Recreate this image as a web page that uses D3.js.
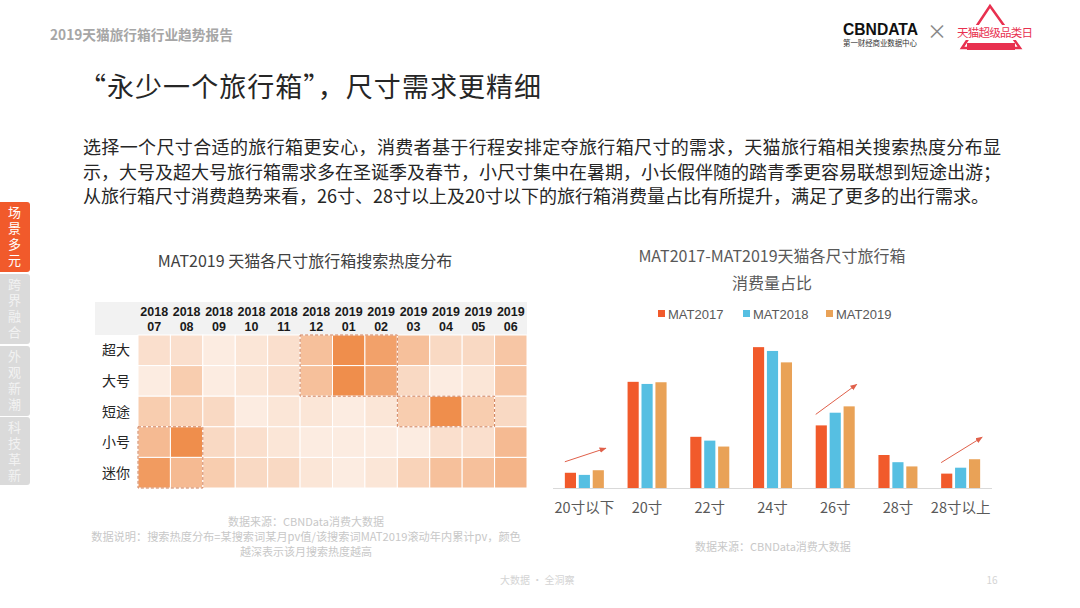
<!DOCTYPE html>
<html><head><meta charset="utf-8">
<script src="https://cdn.jsdelivr.net/npm/d3@7"></script>
<style>
html,body{margin:0;padding:0;background:#fff;}
svg{display:block;font-family:"Noto Sans CJK SC","Microsoft YaHei",sans-serif;}
</style></head>
<body><svg id="c" width="1080" height="608"></svg>
<script>
// ---------- data ----------
const months = ["201807","201808","201809","201810","201811","201812","201901","201902","201903","201904","201905","201906"];
const sizesHeat = ["超大","大号","短途","小号","迷你"];
const heatXL   = [7.0, 7.0, 6.0, 6.5, 7.0, 9.5, 13.5, 12.0, 9.5, 7.5, 7.5, 9.0];
const heatL    = [6.0, 8.5, 6.0, 6.5, 7.0, 9.5, 13.5, 11.5, 7.5, 6.0, 6.5, 9.0];
const heatTrip = [8.5, 8.0, 7.5, 6.0, 6.5, 6.5, 6.0, 6.5, 8.5, 13.5, 8.5, 7.5];
const heatS    = [10.0, 13.5, 7.5, 7.0, 6.5, 6.0, 6.0, 6.0, 6.0, 7.0, 7.0, 10.0];
const heatMini = [12.5, 10.0, 8.5, 7.5, 7.5, 6.5, 6.0, 6.5, 8.0, 9.5, 9.5, 10.5];
const highlights = [
  {rows:["小号","迷你"], cols:["201807","201808"]},
  {rows:["超大","大号"], cols:["201812","201902"]},
  {rows:["短途","短途"], cols:["201903","201905"]}
];
const barCats = ["20寸以下","20寸","22寸","24寸","26寸","28寸","28寸以上"];
const seriesNames = ["MAT2017","MAT2018","MAT2019"];
const mat2017 = [3.6, 25.1, 12.1, 33.3, 14.8, 7.8, 3.4];
const mat2018 = [3.1, 24.6, 11.2, 32.4, 17.8, 6.1, 4.8];
const mat2019 = [4.2, 25.0, 9.8, 29.7, 19.3, 5.1, 6.8];
const trendCats = ["20寸以下","26寸","28寸以上"];
const sideTabs = ["场景多元","跨界融合","外观新潮","科技革新"];

const svg = d3.select("#c");
svg.append("rect").attr("width",1080).attr("height",608).attr("fill","#fff");

// ---------- header ----------
svg.append("text").attr("x",50).attr("y",40).attr("font-size",13.7).attr("font-weight","bold")
  .attr("fill","#a6a6a6").text("2019天猫旅行箱行业趋势报告");
svg.append("text").attr("x",843).attr("y",35).attr("font-size",16).attr("font-weight","bold")
  .attr("font-family","Arial, Liberation Sans, sans-serif").attr("fill","#111")
  .attr("textLength",75).attr("lengthAdjust","spacingAndGlyphs").text("CBNDATA");
svg.append("text").attr("x",843).attr("y",46).attr("font-size",7.5).attr("fill","#333")
  .attr("textLength",74).attr("lengthAdjust","spacing").text("第一财经商业数据中心");
svg.append("text").attr("x",937).attr("y",39).attr("font-size",20).attr("fill","#888").attr("text-anchor","middle").text("×");
// red logo
const lg = svg.append("g");
lg.append("path").attr("d","M990,6 L962,48 L1020,48 Z").attr("fill","none").attr("stroke","#e8304f").attr("stroke-width",2.5);
lg.append("path").attr("d","M967,43 L1015,43 L1015,50 L967,50 Z").attr("fill","#e8304f");
lg.append("rect").attr("x",956).attr("y",25).attr("width",79).attr("height",15).attr("fill","#fff");
lg.append("text").attr("x",957).attr("y",37).attr("font-size",11.5).attr("fill","#e8304f")
  .attr("textLength",76).attr("lengthAdjust","spacing").text("天猫超级品类日");

// ---------- titles ----------
svg.append("text").attr("x",79).attr("y",97).attr("font-size",27).attr("fill","#262626")
  .attr("textLength",462).attr("lengthAdjust","spacing").text("“永少一个旅行箱”，尺寸需求更精细");
const para = [
  "选择一个尺寸合适的旅行箱更安心，消费者基于行程安排定夺旅行箱尺寸的需求，天猫旅行箱相关搜索热度分布显",
  "示，大号及超大号旅行箱需求多在圣诞季及春节，小尺寸集中在暑期，小长假伴随的踏青季更容易联想到短途出游；",
  "从旅行箱尺寸消费趋势来看，26寸、28寸以上及20寸以下的旅行箱消费量占比有所提升，满足了更多的出行需求。"
];
para.forEach((t,i)=>{
  const tx = svg.append("text").attr("x",83).attr("y",154+i*24.5).attr("font-size",18).attr("fill","#262626").text(t);
  if(i<2) tx.attr("textLength",918).attr("lengthAdjust","spacing");
});

// ---------- side tabs ----------
const tabY = [202,274,346,417];
sideTabs.forEach((t,i)=>{
  const g = svg.append("g");
  g.append("rect").attr("x",-4).attr("y",tabY[i]).attr("width",34).attr("height",i==3?68:70).attr("rx",3)
    .attr("fill", i==0 ? "#f15a2b" : "#dadada");
  g.append("text").attr("x",14.5).attr("y",tabY[i]+4).attr("writing-mode","tb")
    .attr("font-size",13).attr("letter-spacing",3)
    .attr("fill", i==0 ? "#fff" : "#f2f2f2").text(t);
});

// ---------- heatmap ----------
svg.append("text").attr("x",305).attr("y",267).attr("text-anchor","middle").attr("font-size",16)
  .attr("fill","#404040").text("MAT2019 天猫各尺寸旅行箱搜索热度分布");
const heatRows = [heatXL, heatL, heatTrip, heatS, heatMini];
const hx = d3.scaleBand().domain(months).range([138,527]);
const hy = d3.scaleBand().domain(sizesHeat).range([335,488]);
const hcol = d3.scaleLinear().domain([5.5,14]).range(["#fdf2eb","#ee8842"]).clamp(true);
svg.append("rect").attr("x",95).attr("y",302).attr("width",432).attr("height",33).attr("fill","#f2f2f2");
const hg = svg.append("g");
heatRows.forEach((row,ri)=>{
  row.forEach((v,ci)=>{
    hg.append("rect").attr("x",hx(months[ci])).attr("y",hy(sizesHeat[ri]))
      .attr("width",hx.bandwidth()).attr("height",hy.bandwidth())
      .attr("fill",hcol(v)).attr("stroke","#fff").attr("stroke-width",1);
  });
  svg.append("text").attr("x",116).attr("y",hy(sizesHeat[ri])+hy.bandwidth()/2+5).attr("text-anchor","middle")
    .attr("font-size",14).attr("fill","#262626").text(sizesHeat[ri]);
});
months.forEach(m=>{
  const cx = hx(m)+hx.bandwidth()/2;
  svg.append("text").attr("x",cx).attr("y",316).attr("text-anchor","middle").attr("font-size",12.5)
    .attr("font-weight","bold").attr("font-family","Arial, Liberation Sans, sans-serif").attr("fill","#1a1a1a").text(m.slice(0,4));
  svg.append("text").attr("x",cx).attr("y",331).attr("text-anchor","middle").attr("font-size",12.5)
    .attr("font-weight","bold").attr("font-family","Arial, Liberation Sans, sans-serif").attr("fill","#1a1a1a").text(m.slice(4));
});
highlights.forEach(h=>{
  const x0 = hx(h.cols[0]), x1 = hx(h.cols[1])+hx.bandwidth();
  const y0 = hy(h.rows[0]), y1 = hy(h.rows[1])+hy.bandwidth();
  svg.append("rect").attr("x",x0).attr("y",y0).attr("width",x1-x0).attr("height",y1-y0)
    .attr("fill","none").attr("stroke","#cf7c55").attr("stroke-width",1).attr("stroke-dasharray","3,2");
});
svg.append("text").attr("x",306).attr("y",526).attr("text-anchor","middle").attr("font-size",11).attr("fill","#c8c8c8").text("数据来源：CBNData消费大数据");
svg.append("text").attr("x",306).attr("y",541).attr("text-anchor","middle").attr("font-size",11.2).attr("fill","#c8c8c8").text("数据说明：搜索热度分布=某搜索词某月pv值/该搜索词MAT2019滚动年内累计pv，颜色");
svg.append("text").attr("x",306).attr("y",556).attr("text-anchor","middle").attr("font-size",11).attr("fill","#c8c8c8").text("越深表示该月搜索热度越高");

// ---------- bar chart ----------
svg.append("text").attr("x",772).attr("y",262).attr("text-anchor","middle").attr("font-size",16).attr("fill","#595959").text("MAT2017-MAT2019天猫各尺寸旅行箱");
svg.append("text").attr("x",772).attr("y",289).attr("text-anchor","middle").attr("font-size",16).attr("fill","#595959").text("消费量占比");
const colors = {"MAT2017":"#f15a2b","MAT2018":"#56bfe2","MAT2019":"#e9a257"};
const legX = [658,743,826];
seriesNames.forEach((s,i)=>{
  svg.append("rect").attr("x",legX[i]).attr("y",310).attr("width",7).attr("height",7).attr("fill",colors[s]);
  svg.append("text").attr("x",legX[i]+10).attr("y",318.5).attr("font-size",13).attr("fill","#595959")
    .attr("font-family","Arial, Liberation Sans, sans-serif").text(s);
});
const x0 = d3.scaleBand().domain(barCats).range([553,992]).paddingInner(0.378).paddingOuter(0.189);
const x1 = d3.scaleBand().domain(seriesNames).range([0,x0.bandwidth()]).paddingInner(0.2);
const y = d3.scaleLinear().domain([0,35]).range([488,488-35*4.23]);
const seriesVals = {"MAT2017":mat2017,"MAT2018":mat2018,"MAT2019":mat2019};
const bg = svg.append("g");
barCats.forEach((c,ci)=>{
  seriesNames.forEach(s=>{
    const v = seriesVals[s][ci];
    bg.append("rect").attr("x",x0(c)+x1(s)).attr("y",y(v)).attr("width",x1.bandwidth()).attr("height",y(0)-y(v)).attr("fill",colors[s]);
  });
});
svg.append("line").attr("x1",553).attr("x2",992).attr("y1",488.5).attr("y2",488.5).attr("stroke","#d9d9d9").attr("stroke-width",1);
const xAxis = svg.append("g").attr("transform","translate(0,488)")
  .call(d3.axisBottom(x0).tickSize(0).tickPadding(15));
xAxis.select(".domain").remove();
xAxis.selectAll("text").attr("font-size",14.5).attr("fill","#595959").attr("font-family","Noto Sans CJK SC, sans-serif");
// trend arrows
const defs = svg.append("defs");
defs.append("marker").attr("id","ah").attr("viewBox","0 0 10 10").attr("refX",9).attr("refY",5)
  .attr("markerWidth",7).attr("markerHeight",7).attr("orient","auto")
  .append("path").attr("d","M0,1 L10,5 L0,9 Z").attr("fill","#e0604a");
trendCats.forEach(c=>{
  const ci = barCats.indexOf(c);
  const xs = x0(c), xe = x0(c)+x0.bandwidth()+2;
  svg.append("line").attr("x1",xs).attr("y1",y(mat2017[ci])-11).attr("x2",xe).attr("y2",y(mat2019[ci])-22)
    .attr("stroke","#e0604a").attr("stroke-width",1).attr("marker-end","url(#ah)");
});
svg.append("text").attr("x",695).attr("y",551).attr("font-size",11).attr("fill","#c8c8c8").text("数据来源：CBNData消费大数据");

// ---------- footer ----------
svg.append("text").attr("x",500).attr("y",584).attr("font-size",10).attr("fill","#d4d4d4").text("大数据 · 全洞察");
svg.append("text").attr("x",992).attr("y",584).attr("text-anchor","middle").attr("font-size",10).attr("fill","#d4d4d4").text("16");
</script></body></html>
